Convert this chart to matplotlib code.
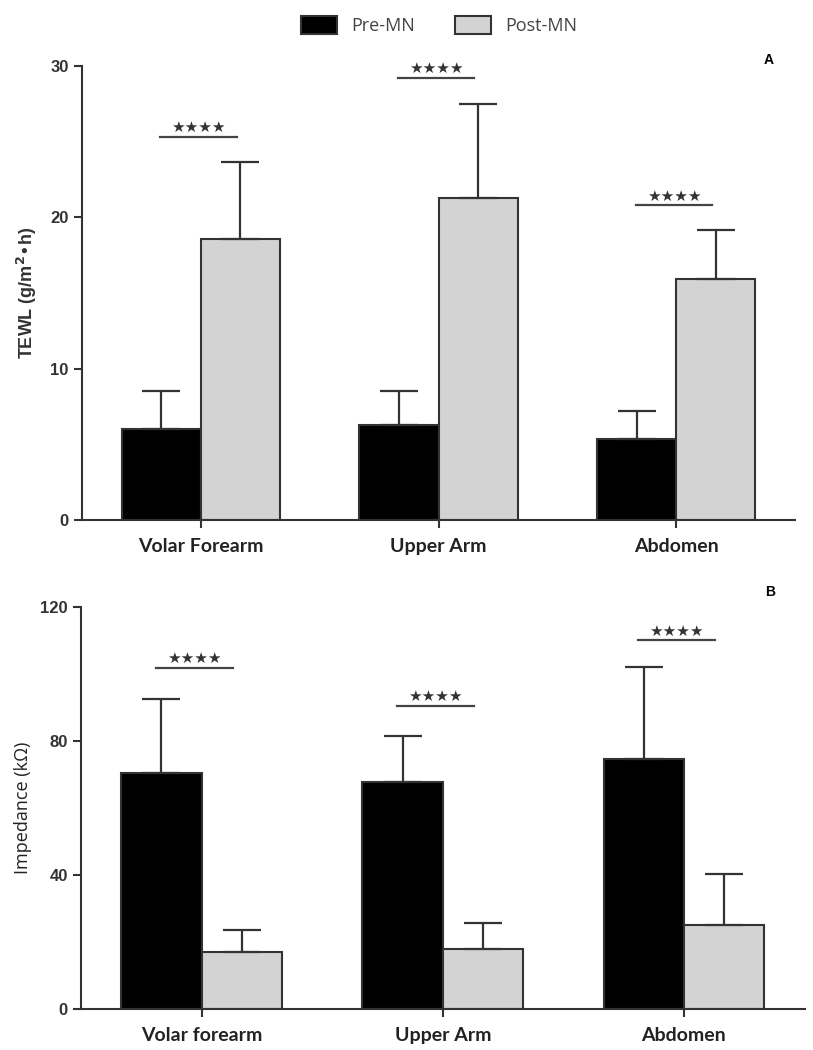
import matplotlib
matplotlib.use("Agg")
import numpy as np
import matplotlib.pyplot as plt
from matplotlib.patches import Patch

# panel A: TEWL
sites_a = ["Volar Forearm", "Upper Arm", "Abdomen"]
tewl_pre = [5.98, 6.26, 5.36]
tewl_pre_sd = [2.55, 2.27, 1.83]
tewl_post = [18.55, 21.3, 15.95]
tewl_post_sd = [5.1, 6.2, 3.2]
tewl_sig = [25.3, 29.2, 20.8]

# panel B: impedance
sites_b = ["Volar forearm", "Upper Arm", "Abdomen"]
imp_pre = [70.3, 67.7, 74.5]
imp_pre_sd = [22.2, 13.8, 27.5]
imp_post = [17.1, 17.8, 25.1]
imp_post_sd = [6.4, 8.0, 15.1]
imp_sig = [101.9, 90.5, 110.0]

pre_col = "black"
post_col = "#d3d3d3"
edge = "#333333"
w = 0.333

lab_font = "Lato"
tick_font = "Liberation Sans"


def panel(ax, pre, pre_sd, post, post_sd, sig, labels, ymax, yticks, sig_off):
    x = np.arange(len(labels))
    err_kw = dict(elinewidth=1.6, capthick=1.6, ecolor=edge)
    ax.bar(x - w / 2, pre, w, color=pre_col, edgecolor=edge, linewidth=1.5,
           yerr=[np.zeros(len(pre)), pre_sd], capsize=14, error_kw=err_kw, zorder=2)
    ax.bar(x + w / 2, post, w, color=post_col, edgecolor=edge, linewidth=1.5,
           yerr=[np.zeros(len(post)), post_sd], capsize=14, error_kw=err_kw, zorder=2)
    for xi, s in zip(x, sig):
        ax.plot([xi - 0.16 + sig_off, xi + 0.16 + sig_off], [s, s], color="#444444", lw=1.6)
        ax.text(xi + sig_off, s + ymax * 0.004, "★★★★", ha="center", va="bottom",
                fontsize=11, color="#333333", family="DejaVu Sans")
    ax.set_xlim(-0.5, 2.5)
    ax.set_ylim(0, ymax)
    ax.set_yticks(yticks)
    ax.set_xticks(x)
    ax.set_xticklabels(labels, fontsize=14, fontweight="bold", family=lab_font, color="#222222")
    for t in ax.get_yticklabels():
        t.set_fontsize(12)
        t.set_fontweight("bold")
        t.set_family(tick_font)
        t.set_color("#333333")
    ax.spines["top"].set_visible(False)
    ax.spines["right"].set_visible(False)
    ax.spines["left"].set_bounds(0, ymax)
    for sp in ["left", "bottom"]:
        ax.spines[sp].set_linewidth(1.5)
        ax.spines[sp].set_color(edge)
    ax.tick_params(axis="both", direction="out", length=6, width=1.5, color=edge)
    ax.tick_params(axis="x", pad=7)


fig = plt.figure(figsize=(8.13, 10.5), dpi=100)
ax1 = fig.add_axes([0.1009, 0.505, 0.877, 0.432])
ax2 = fig.add_axes([0.0996, 0.039, 0.890, 0.383])

panel(ax1, tewl_pre, tewl_pre_sd, tewl_post, tewl_post_sd, tewl_sig,
      sites_a, 30, [0, 10, 20, 30], -0.01)
panel(ax2, imp_pre, imp_pre_sd, imp_post, imp_post_sd, imp_sig,
      sites_b, 120, [0, 40, 80, 120], -0.03)

ax1.set_ylabel("TEWL (g/m$^{\\mathbf{2}}$•h)", fontsize=13, fontweight="bold",
               family=tick_font, color="#333333", labelpad=8)
ax2.set_ylabel("Impedance (kΩ)", fontsize=13, family="Open Sans", color="#222222", labelpad=6)

fig.text(0.945, 0.939, "A", fontsize=10, fontweight="bold", family=tick_font, ha="center")
fig.text(0.947, 0.432, "B", fontsize=10, fontweight="bold", family=tick_font, ha="center")

handles = [Patch(facecolor=pre_col, edgecolor=edge, linewidth=1.5, label="Pre-MN"),
           Patch(facecolor=post_col, edgecolor=edge, linewidth=1.5, label="Post-MN")]
fig.legend(handles=handles, loc="upper center", bbox_to_anchor=(0.54, 1.0), ncol=2,
           frameon=False, prop={"family": "Open Sans", "size": 13},
           labelcolor="#444444", handlelength=2.0, handleheight=1.1, columnspacing=2.2)

fig.savefig("out.png", dpi=100)
